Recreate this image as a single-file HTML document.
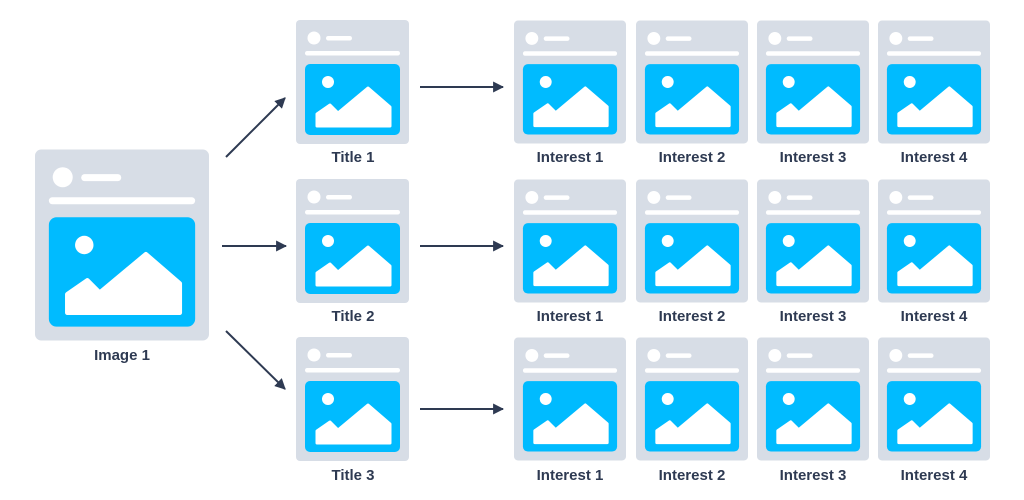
<!DOCTYPE html>
<html><head><meta charset="utf-8"><style>
html,body{margin:0;padding:0;background:#fff;width:1024px;height:500px;overflow:hidden}
text{font-family:"Liberation Sans",sans-serif;font-weight:bold;font-size:15px;fill:#2e3a52;text-anchor:middle}
</style></head><body>
<svg width="1024" height="500" viewBox="0 0 1024 500" xmlns="http://www.w3.org/2000/svg">
<defs>
<symbol id="c" viewBox="0 0 113 124">
<rect x="0" y="0" width="113" height="124" rx="4" fill="#d7dde6"/>
<circle cx="18" cy="18" r="6.5" fill="#fff"/>
<rect x="30" y="16" width="26" height="4.5" rx="2.2" fill="#fff"/>
<rect x="9" y="31" width="95" height="4.5" rx="2.2" fill="#fff"/>
<rect x="9" y="44" width="95" height="71" rx="5" fill="#00bbff"/>
<circle cx="32" cy="62" r="6" fill="#fff"/>
<path d="M21 106 L21 94 L34 85 L42 93 L72 68 L94 87 L94 106 Z" fill="#fff" stroke="#fff" stroke-width="3" stroke-linejoin="round"/>
</symbol>
<marker id="a" viewBox="0 0 10 10" refX="9" refY="5" markerWidth="5.5" markerHeight="5.5" orient="auto"><path d="M0 0 L10 5 L0 10 Z" fill="#2e3a52"/></marker>
</defs>
<use href="#c" x="35" y="149" width="174" height="192"/>
<text x="122" y="360">Image 1</text>
<g stroke="#2e3a52" stroke-width="2" marker-end="url(#a)">
<line x1="226" y1="157" x2="285" y2="98"/>
<line x1="222" y1="246" x2="286" y2="246"/>
<line x1="226" y1="331" x2="285" y2="389"/>
<line x1="420" y1="87" x2="503" y2="87"/>
<line x1="420" y1="246" x2="503" y2="246"/>
<line x1="420" y1="409" x2="503" y2="409"/>
</g>
<use href="#c" x="296" y="20" width="113" height="124"/>
<use href="#c" x="296" y="179" width="113" height="124"/>
<use href="#c" x="296" y="337" width="113" height="124"/>
<text x="353" y="162">Title 1</text>
<text x="353" y="321">Title 2</text>
<text x="353" y="480">Title 3</text>
<g>
<use href="#c" x="514" y="20" width="112" height="124"/><use href="#c" x="636" y="20" width="112" height="124"/><use href="#c" x="757" y="20" width="112" height="124"/><use href="#c" x="878" y="20" width="112" height="124"/>
<use href="#c" x="514" y="179" width="112" height="124"/><use href="#c" x="636" y="179" width="112" height="124"/><use href="#c" x="757" y="179" width="112" height="124"/><use href="#c" x="878" y="179" width="112" height="124"/>
<use href="#c" x="514" y="337" width="112" height="124"/><use href="#c" x="636" y="337" width="112" height="124"/><use href="#c" x="757" y="337" width="112" height="124"/><use href="#c" x="878" y="337" width="112" height="124"/>
</g>
<text x="570" y="162">Interest 1</text><text x="692" y="162">Interest 2</text><text x="813" y="162">Interest 3</text><text x="934" y="162">Interest 4</text>
<text x="570" y="321">Interest 1</text><text x="692" y="321">Interest 2</text><text x="813" y="321">Interest 3</text><text x="934" y="321">Interest 4</text>
<text x="570" y="480">Interest 1</text><text x="692" y="480">Interest 2</text><text x="813" y="480">Interest 3</text><text x="934" y="480">Interest 4</text>
</svg>
</body></html>
